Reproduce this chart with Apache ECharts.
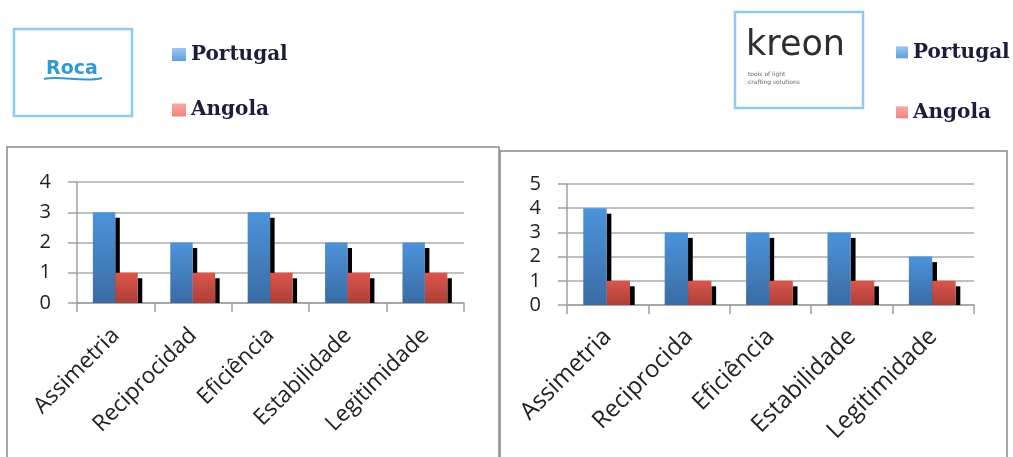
<!DOCTYPE html>
<html>
<head>
<meta charset="utf-8">
<script src="https://cdn.jsdelivr.net/npm/echarts@6/dist/echarts.min.js"></script>
<style>
  html, body { margin: 0; padding: 0; background: #fff; }
  #chart { width: 1013px; height: 457px; }
</style>
</head>
<body>
<div id="chart"></div>
<script>
// Categories for each panel
const categoriesRoca = ['Assimetria', 'Reciprocidad', 'Eficiência', 'Estabilidade', 'Legitimidade'];
const categoriesKreon = ['Assimetria', 'Reciprocida', 'Eficiência', 'Estabilidade', 'Legitimidade'];

// Scores per dimension
const rocaPortugal = [3, 2, 3, 2, 2];
const rocaAngola = [1, 1, 1, 1, 1];
const kreonPortugal = [4, 3, 3, 3, 2];
const kreonAngola = [1, 1, 1, 1, 1];

// Value-axis ranges
const rocaMax = 4;
const kreonMax = 5;

const blueFill = new echarts.graphic.LinearGradient(0, 0, 0, 1, [
  { offset: 0, color: '#4c93db' },
  { offset: 1, color: '#3a6ca4' }
]);
const redFill = new echarts.graphic.LinearGradient(0, 0, 0, 1, [
  { offset: 0, color: '#dc554b' },
  { offset: 1, color: '#ad3f37' }
]);
const blueKey = new echarts.graphic.LinearGradient(0, 0, 0, 1, [
  { offset: 0, color: '#9cc8f0' },
  { offset: 1, color: '#5f9fe0' }
]);
const redKey = new echarts.graphic.LinearGradient(0, 0, 0, 1, [
  { offset: 0, color: '#f8aaa5' },
  { offset: 1, color: '#ee837d' }
]);

// Column with a hard black drop strip on its right side
function columnRenderer(startFrac, widthFrac, fill) {
  return function (params, api) {
    const idx = api.value(0);
    const v = api.value(1);
    const band = api.size([1, 0])[0];
    const base = api.coord([idx, 0]);
    const top = api.coord([idx, v]);
    const w = band * widthFrac;
    const x0 = base[0] + band * startFrac;
    const shadowW = band * 0.058;
    return {
      type: 'group',
      children: [
        {
          type: 'rect',
          shape: { x: x0 + w, y: top[1] + 5.5, width: shadowW, height: base[1] - top[1] - 5.5 },
          style: { fill: '#000' }
        },
        {
          type: 'rect',
          shape: { x: x0, y: top[1], width: w, height: base[1] - top[1] },
          style: { fill: fill }
        }
      ]
    };
  };
}

function toPairs(arr) { return arr.map((v, i) => [i, v]); }

function catAxis(gridIndex, cats, fontSize, margin) {
  return {
    type: 'category',
    gridIndex: gridIndex,
    data: cats,
    axisLine: { lineStyle: { color: '#a0a0a0', width: 1.5 } },
    axisTick: { show: true, length: 9, lineStyle: { color: '#a0a0a0', width: 1.5 } },
    axisLabel: {
      rotate: 45,
      interval: 0,
      margin: margin,
      fontFamily: 'Open Sans',
      fontSize: fontSize,
      color: '#222'
    }
  };
}

function valAxis(gridIndex, max) {
  return {
    type: 'value',
    gridIndex: gridIndex,
    min: 0,
    max: max,
    interval: 1,
    axisLine: { show: true, lineStyle: { color: '#a0a0a0', width: 1.5 } },
    axisTick: { show: true, inside: false, length: 9, lineStyle: { color: '#a0a0a0', width: 1.5 } },
    splitLine: { show: true, lineStyle: { color: '#ababab', width: 1.5 } },
    axisLabel: { margin: 26, fontFamily: 'Open Sans', fontSize: 20, color: '#222' }
  };
}

const legendText = { fontFamily: 'DejaVu Serif', fontWeight: 'bold', fontSize: 20, color: '#1c1c3c', lineHeight: 20 };
const legendItems = [
  { name: 'Portugal', itemStyle: { color: blueKey } },
  { name: 'Angola', itemStyle: { color: redKey } }
];

const chart = echarts.init(document.getElementById('chart'), null, { renderer: 'canvas' });

chart.setOption({
  animation: false,
  backgroundColor: '#fff',
  graphic: [
    // panel frames
    { type: 'rect', shape: { x: 7, y: 147, width: 492, height: 330 }, style: { fill: 'none', stroke: '#8a8a8a', lineWidth: 1.5 }, z: -10 },
    { type: 'rect', shape: { x: 500, y: 151, width: 507, height: 330 }, style: { fill: 'none', stroke: '#8a8a8a', lineWidth: 1.5 }, z: -10 },
    // Roca badge
    { type: 'rect', shape: { x: 14, y: 29, width: 118, height: 87 }, style: { fill: '#fff', stroke: '#8fcbea', lineWidth: 2.5 } },
    { type: 'text', style: { x: 72, y: 69, text: 'Roca', fill: '#2f9bd6', font: 'bold 19px "DejaVu Sans"', align: 'center', verticalAlign: 'middle' } },
    { type: 'bezierCurve', shape: { x1: 44, y1: 79, cpx1: 60, cpy1: 75, cpx2: 84, cpy2: 83, x2: 102, y2: 78 }, style: { fill: 'none', stroke: '#2f9bd6', lineWidth: 2 } },
    // kreon badge
    { type: 'rect', shape: { x: 735, y: 12, width: 128, height: 96 }, style: { fill: '#fff', stroke: '#8fcbea', lineWidth: 2.5 } },
    { type: 'text', style: { x: 746, y: 46, text: 'kreon', fill: '#2e2e2e', font: '35px "DejaVu Sans"', align: 'left', verticalAlign: 'middle' } },
    { type: 'text', style: { x: 748, y: 74, text: 'tools of light', fill: '#666', font: '6px "DejaVu Sans"', align: 'left', verticalAlign: 'middle' } },
    { type: 'text', style: { x: 748, y: 82, text: 'crafting solutions', fill: '#666', font: '6px "DejaVu Sans"', align: 'left', verticalAlign: 'middle' } }
  ],
  legend: [
    {
      left: 167, top: 39.5, orient: 'vertical', itemGap: 35.5,
      itemWidth: 14, itemHeight: 13, icon: 'rect', selectedMode: false,
      textStyle: legendText,
      data: legendItems
    },
    {
      left: 891, top: 37.3, orient: 'vertical', itemGap: 40,
      itemWidth: 12, itemHeight: 12, icon: 'rect', selectedMode: false,
      textStyle: legendText,
      data: legendItems
    }
  ],
  grid: [
    { left: 77, right: 549, top: 182, bottom: 154 },
    { left: 567, right: 39, top: 184, bottom: 152 }
  ],
  xAxis: [catAxis(0, categoriesRoca, 22.5, 29), catAxis(1, categoriesKreon, 24, 28)],
  yAxis: [valAxis(0, rocaMax), valAxis(1, kreonMax)],
  series: [
    {
      name: 'Portugal', type: 'custom', xAxisIndex: 0, yAxisIndex: 0,
      itemStyle: { color: blueFill },
      renderItem: columnRenderer(-0.295, 0.29, blueFill),
      encode: { x: 0, y: 1 },
      data: toPairs(rocaPortugal)
    },
    {
      name: 'Angola', type: 'custom', xAxisIndex: 0, yAxisIndex: 0,
      itemStyle: { color: redFill },
      renderItem: columnRenderer(-0.005, 0.29, redFill),
      encode: { x: 0, y: 1 },
      data: toPairs(rocaAngola)
    },
    {
      name: 'Portugal', type: 'custom', xAxisIndex: 1, yAxisIndex: 1,
      itemStyle: { color: blueFill },
      renderItem: columnRenderer(-0.3, 0.287, blueFill),
      encode: { x: 0, y: 1 },
      data: toPairs(kreonPortugal)
    },
    {
      name: 'Angola', type: 'custom', xAxisIndex: 1, yAxisIndex: 1,
      itemStyle: { color: redFill },
      renderItem: columnRenderer(-0.013, 0.287, redFill),
      encode: { x: 0, y: 1 },
      data: toPairs(kreonAngola)
    }
  ]
});
</script>
</body>
</html>
